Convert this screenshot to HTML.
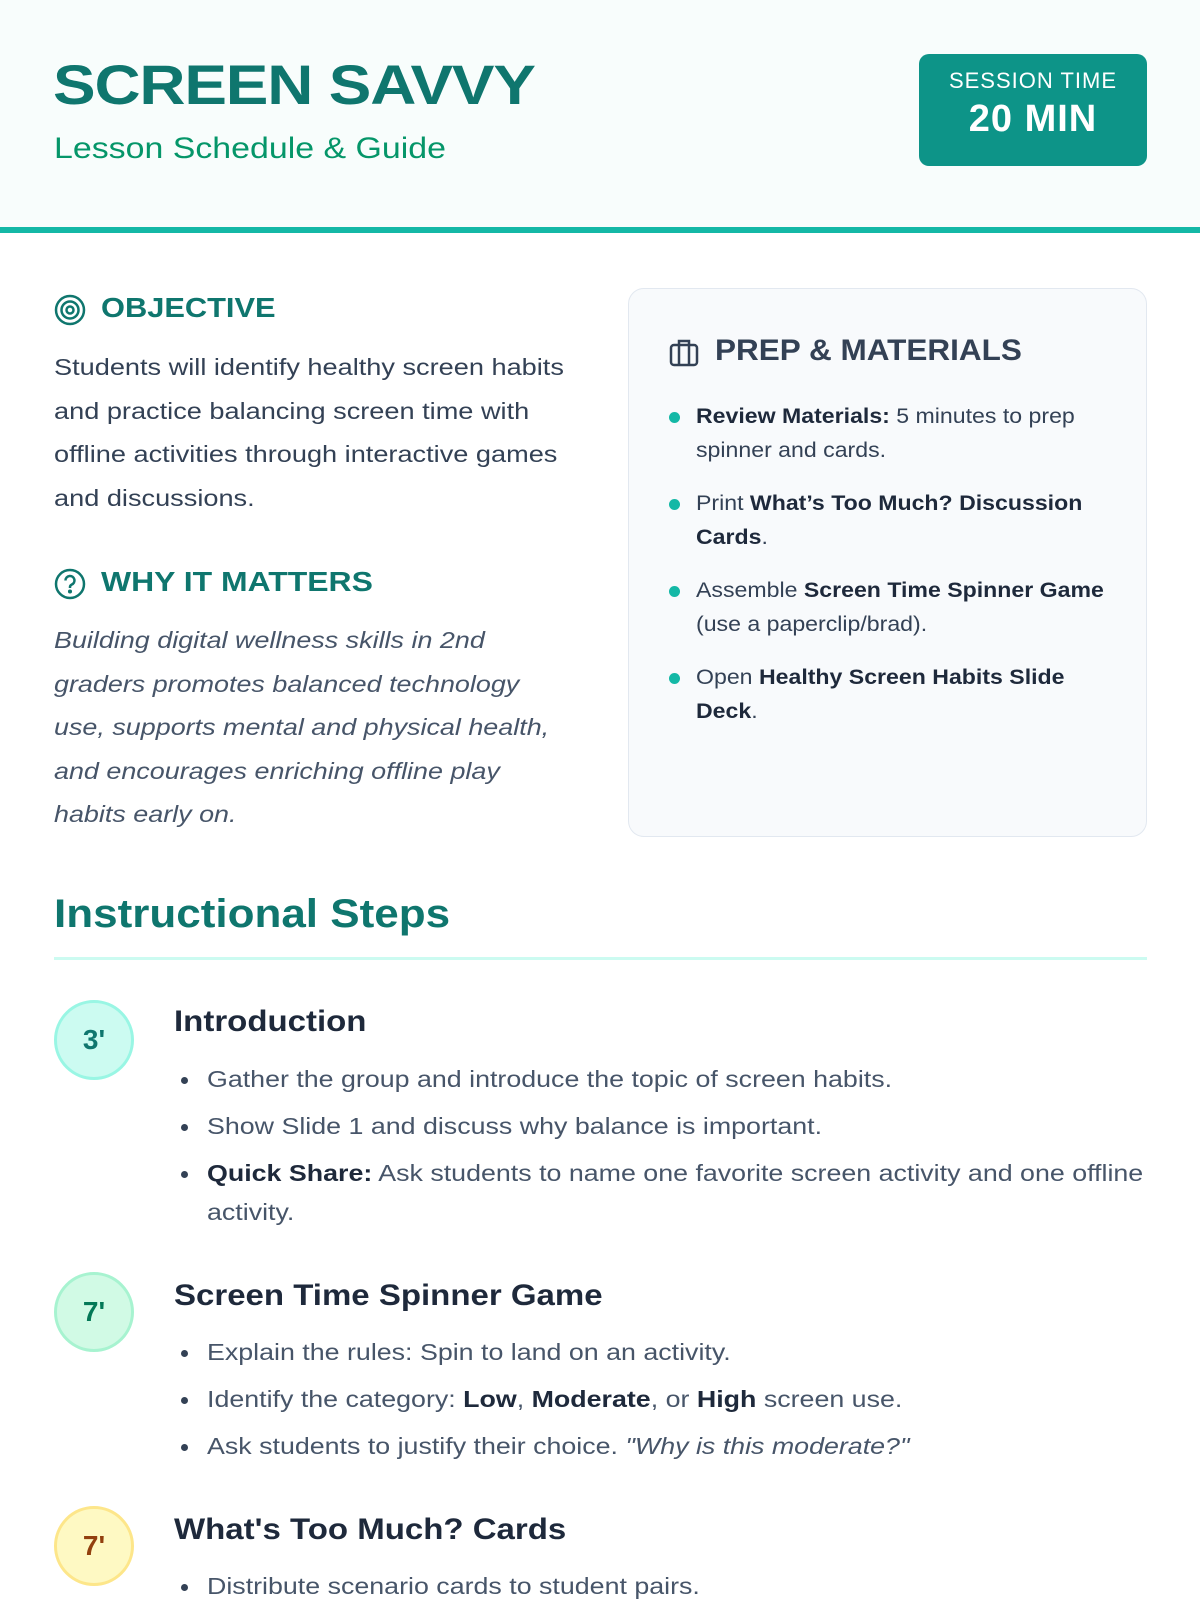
<!DOCTYPE html>
<html><head><meta charset="utf-8"><style>
*{margin:0;padding:0;box-sizing:border-box}
body{width:1200px;height:1600px;overflow:hidden;background:#fff;font-family:"Liberation Sans",sans-serif;color:#1e293b;position:relative}
.a{position:absolute;white-space:nowrap;transform-origin:0 0}
.hdr{position:absolute;left:0;top:0;width:1200px;height:227px;background:#f8fdfc}
.bar{position:absolute;left:0;top:227px;width:1200px;height:6px;background:#14b8a6}
.t{font-weight:bold;font-size:56px;color:#0f766e;letter-spacing:-1px;transform:scaleX(1.14)}
.badge{position:absolute;left:919px;top:54px;width:228px;height:112px;background:#0d9488;border-radius:10px;color:#fff;text-align:center}
.h2{font-weight:bold;font-size:28px;color:#0f766e}
.p{font-size:23px;color:#334155;line-height:43.5px;transform:scaleX(1.18)}
.box{position:absolute;left:628px;top:288px;width:519px;height:549px;background:#f8fafc;border:1.5px solid #e2e8f0;border-radius:16px}
.pb{font-size:21px;color:#334155;line-height:34px;transform:scaleX(1.1)}
.dot{position:absolute;width:11px;height:11px;border-radius:50%;background:#14b8a6}
.c{position:absolute;left:54px;width:80px;height:80px;border-radius:50%;border:3px solid;text-align:center;line-height:74px;font-weight:bold;font-size:28px}
.st{font-weight:bold;font-size:30px;color:#1e293b;transform:scaleX(1.1)}
.li{font-size:23.5px;color:#475569;transform:scaleX(1.14)}
.bd{position:absolute;left:181px;width:7px;height:7px;border-radius:50%;background:#334155}
b{color:#1e293b}
</style></head><body>
<div class="hdr"></div><div class="bar"></div>
<div class="a t" style="left:53px;top:52px">SCREEN SAVVY</div>
<div class="a" style="left:54px;top:132px;font-size:30px;color:#059669;transform:scaleX(1.13)">Lesson Schedule &amp; Guide</div>
<div class="badge"><div style="margin-top:14px;font-size:22px;letter-spacing:1px">SESSION TIME</div><div style="font-size:38px;margin-top:4px;font-weight:bold;letter-spacing:1px">20 MIN</div></div>

<svg class="a" style="left:54px;top:294px" width="32" height="32" viewBox="0 0 32 32" fill="none" stroke="#0f766e" stroke-width="2.5"><circle cx="16" cy="16" r="14"/><circle cx="16" cy="16" r="8.5"/><circle cx="16" cy="16" r="3.5"/></svg>
<div class="a h2" style="left:101px;top:292px;transform:scaleX(1.1)">OBJECTIVE</div>
<div class="a p" style="left:54px;top:346px">Students will identify healthy screen habits<br>and practice balancing screen time with<br>offline activities through interactive games<br>and discussions.</div>

<svg class="a" style="left:54px;top:568px" width="32" height="32" viewBox="0 0 32 32" fill="none" stroke="#0f766e" stroke-width="2.5"><circle cx="16" cy="16" r="14"/><path d="M11.5 12.5a4.5 4.5 0 1 1 6 4.2c-1 .5-1.5 1.2-1.5 2.3v1"/><circle cx="16" cy="23.5" r=".8" fill="#0f766e"/></svg>
<div class="a h2" style="left:101px;top:566px;transform:scaleX(1.14)">WHY IT MATTERS</div>
<div class="a p" style="left:54px;top:619px;font-style:italic;color:#475569;transform:scaleX(1.17)">Building digital wellness skills in 2nd<br>graders promotes balanced technology<br>use, supports mental and physical health,<br>and encourages enriching offline play<br>habits early on.</div>

<div class="box"></div>
<svg class="a" style="left:668px;top:336px" width="32" height="32" viewBox="0 0 32 32" fill="none" stroke="#334155" stroke-width="2.5"><rect x="3" y="9" width="26" height="20" rx="3"/><path d="M11 9V5h10v4M11 9v20M21 9v20"/></svg>
<div class="a" style="left:715px;top:334px;font-weight:bold;font-size:30px;color:#334155;transform:scaleX(1.05)">PREP &amp; MATERIALS</div>
<div class="dot" style="left:669px;top:412px"></div>
<div class="a pb" style="left:696px;top:400px"><b>Review Materials:</b> 5 minutes to prep<br>spinner and cards.</div>
<div class="dot" style="left:669px;top:499px"></div>
<div class="a pb" style="left:696px;top:487px">Print <b>What’s Too Much? Discussion</b><br><b>Cards</b>.</div>
<div class="dot" style="left:669px;top:586px"></div>
<div class="a pb" style="left:696px;top:574px">Assemble <b>Screen Time Spinner Game</b><br>(use a paperclip/brad).</div>
<div class="dot" style="left:669px;top:673px"></div>
<div class="a pb" style="left:696px;top:661px">Open <b>Healthy Screen Habits Slide</b><br><b>Deck</b>.</div>

<div class="a" style="left:54px;top:892px;font-weight:bold;font-size:40px;color:#0f766e;transform:scaleX(1.1)">Instructional Steps</div>
<div class="a" style="left:54px;top:957px;width:1093px;height:3px;background:#ccfbf1"></div>

<div class="c" style="top:1000px;background:#ccfbf1;border-color:#99f6e4;color:#0f766e">3'</div>
<div class="a st" style="left:174px;top:1005px">Introduction</div>
<div class="bd" style="top:1077px"></div><div class="a li" style="left:207px;top:1066px">Gather the group and introduce the topic of screen habits.</div>
<div class="bd" style="top:1124px"></div><div class="a li" style="left:207px;top:1113px">Show Slide 1 and discuss why balance is important.</div>
<div class="bd" style="top:1171px"></div><div class="a li" style="left:207px;top:1160px"><b>Quick Share:</b> Ask students to name one favorite screen activity and one offline</div>
<div class="a li" style="left:207px;top:1199px">activity.</div>

<div class="c" style="top:1272px;background:#d1fae5;border-color:#a7f3d0;color:#047857">7'</div>
<div class="a st" style="left:174px;top:1279px">Screen Time Spinner Game</div>
<div class="bd" style="top:1350px"></div><div class="a li" style="left:207px;top:1339px">Explain the rules: Spin to land on an activity.</div>
<div class="bd" style="top:1397px"></div><div class="a li" style="left:207px;top:1386px">Identify the category: <b>Low</b>, <b>Moderate</b>, or <b>High</b> screen use.</div>
<div class="bd" style="top:1444px"></div><div class="a li" style="left:207px;top:1433px">Ask students to justify their choice. <i>"Why is this moderate?"</i></div>

<div class="c" style="top:1506px;background:#fef9c3;border-color:#fde68a;color:#92400e">7'</div>
<div class="a st" style="left:174px;top:1513px">What's Too Much? Cards</div>
<div class="bd" style="top:1584px"></div><div class="a li" style="left:207px;top:1573px">Distribute scenario cards to student pairs.</div>
</body></html>
